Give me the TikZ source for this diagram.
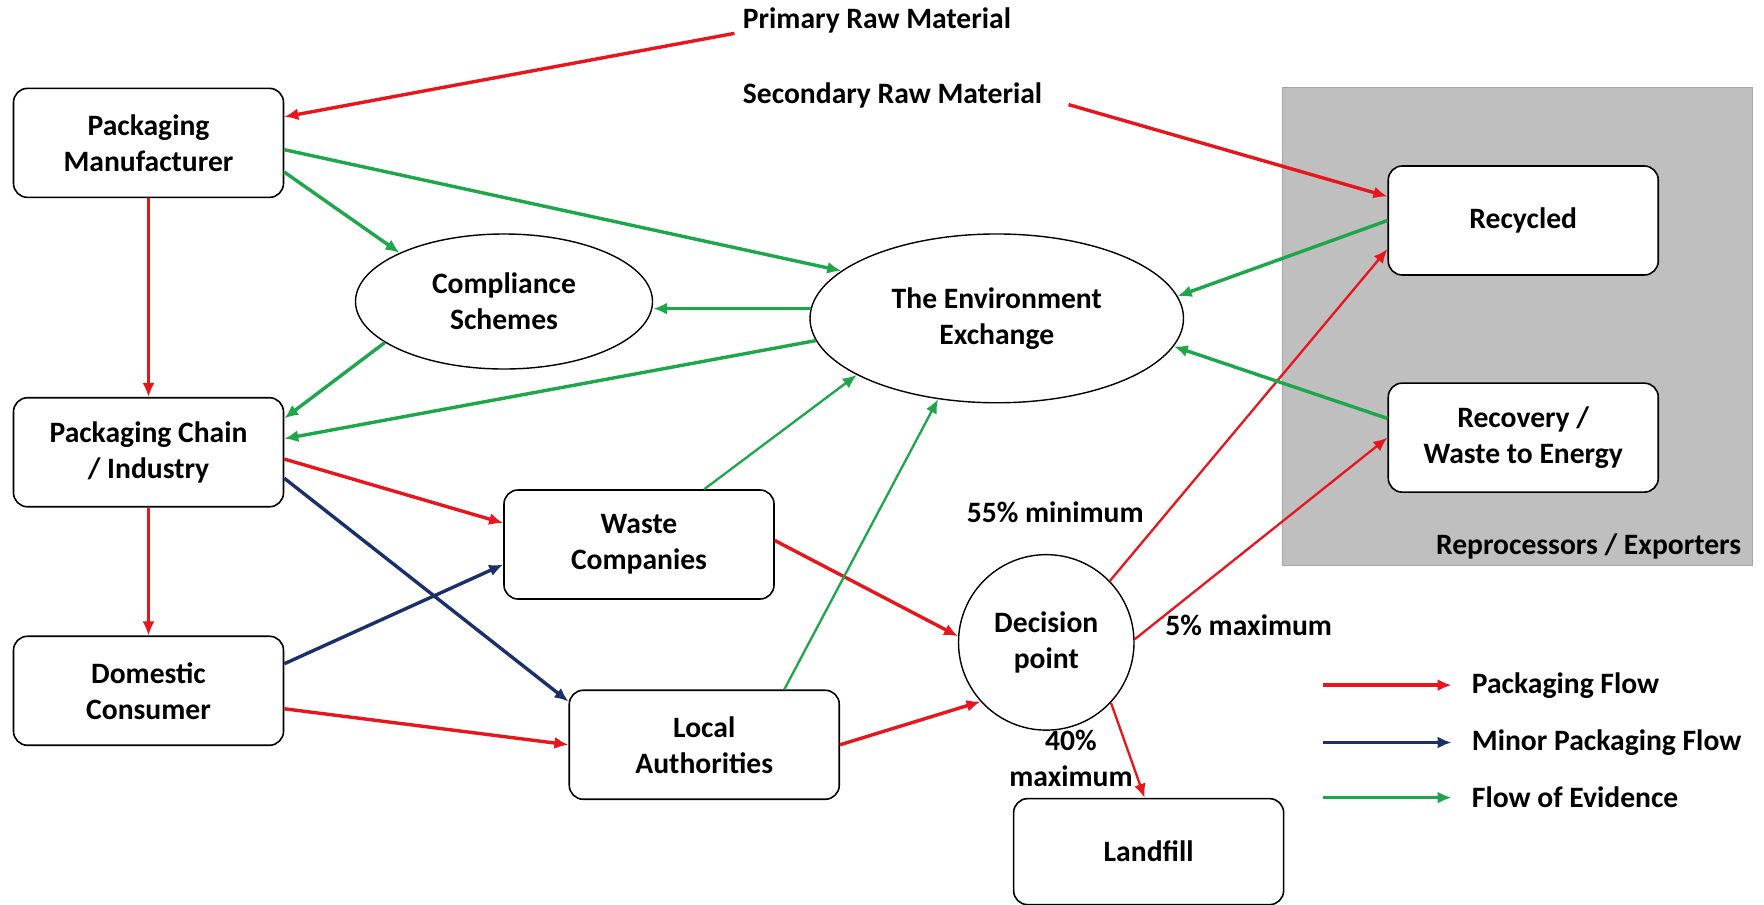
\documentclass[tikz,border=0pt]{standalone}
\usepackage{fontspec}
\setmainfont{Carlito}
\usetikzlibrary{arrows.meta,shapes.geometric}
\tikzset{>={Latex[width=6pt,length=7pt]}}
\definecolor{flowred}{HTML}{E8161C}
\definecolor{flowblue}{HTML}{1B2F6B}
\definecolor{flowgreen}{HTML}{1DA64A}
\definecolor{reprogrey}{HTML}{BFBFBF}
\tikzset{
  box/.style={draw, rounded corners=7pt, line width=0.8pt, fill=white, align=center,
    minimum width=135pt, minimum height=54.5pt, inner sep=2pt},
  oval/.style={draw, ellipse, line width=0.7pt, fill=white, align=center, inner sep=0pt},
  txt/.style={inner sep=0pt, align=center},
  redflow/.style={->, flowred, line width=1.7pt},
  blueflow/.style={->, flowblue, line width=1.7pt},
  greenflow/.style={->, flowgreen, line width=1.7pt},
  thinflow/.style={line width=1.15pt}
}

\begin{document}
\begin{tikzpicture}[x=0.5625pt, y=-0.5625pt, font=\fontsize{14.8}{18}\selectfont\bfseries]

  \useasboundingbox (0,0) rectangle (1568,804);

  % reprocessors area
  \draw[fill=reprogrey, draw=gray!70] (1140,78) rectangle (1558,503);
  \node[txt, anchor=east] (repro) at (1548,486) {Reprocessors / Exporters};

  \node[txt, anchor=west] (prim) at (660,18) {Primary Raw Material};
  \node[txt, anchor=west] (sec) at (660,85) {Secondary Raw Material};

  \node[box] (pm) at (132,127) {Packaging\\Manufacturer};
  \node[box] (pci) at (132,402) {Packaging Chain\\/ Industry};
  \node[box] (dc) at (132,614) {Domestic\\Consumer};
  \node[box] (wc) at (568,484) {Waste\\Companies};
  \node[box] (la) at (626,662) {Local\\Authorities};
  \node[box, minimum height=53pt] (land) at (1021,757) {Landfill};
  \node[box] (recy) at (1354,196) {Recycled};
  \node[box] (recov) at (1354,389) {Recovery /\\Waste to Energy};

  \node[oval, minimum width=148.5pt, minimum height=67.5pt] (comp) at (448,268) {Compliance\\Schemes};
  \node[oval, minimum width=186.75pt, minimum height=84.4pt] (env) at (886,283) {The Environment\\Exchange};
  \node[oval, minimum width=87.75pt, minimum height=87.75pt] (dec) at (930,571) {Decision\\point};

  \node[txt] (min55) at (938,455) {55\% minimum};
  \node[txt] (max5) at (1110,556) {5\% maximum};
  \node[txt] (max40) at (952,674) {40\%\\maximum};

  % packaging flow
  \draw[redflow] ([xshift=-4pt]prim.south west) -- ([yshift=13pt]pm.east);
  \draw[redflow] ([xshift=13pt,yshift=-4.5pt]sec.east) -- ([yshift=12pt]recy.west);
  \draw[redflow, thinflow] (pm.south) -- (pci.north);
  \draw[redflow, thinflow] (pci.south) -- (dc.north);
  \draw[redflow] ([yshift=-3.4pt]pci.east) -- ([yshift=10.7pt]wc.west);
  \draw[redflow] ([yshift=-9pt]dc.east) -- (la.west);
  \draw[redflow] ([yshift=2pt]wc.east) -- (dec.176);
  \draw[redflow] (la.east) -- (dec.222);
  \draw[redflow, thinflow] (dec.44) -- ([yshift=-14.3pt]recy.west);
  \draw[redflow, thinflow] (dec.2) -- (recov.west);
  \draw[redflow, thinflow] (dec.-43) -- ([xshift=-2pt]land.north);

  % minor packaging flow
  \draw[blueflow] ([yshift=-13pt]pci.east) -- ([yshift=-6pt]la.north west);
  \draw[blueflow] ([yshift=13.5pt]dc.east) -- ([yshift=-10pt]wc.west);

  % flow of evidence
  \draw[greenflow] ([yshift=-3.4pt]pm.east) -- (env.163);
  \draw[greenflow] ([yshift=-14.6pt]pm.east) -- (comp.155);
  \draw[greenflow] (env.177) -- (env.177 -| comp.east);
  \draw[greenflow] (comp.199) -- ([yshift=16.9pt]pci.east);
  \draw[greenflow] (env.187) -- ([yshift=6.75pt]pci.east);
  \draw[greenflow, thinflow] ([xshift=32.6pt]wc.north) -- (env.202);
  \draw[greenflow, thinflow] ([xshift=40pt]la.north) -- (env.234);
  \draw[greenflow] (recy.west) -- (env.7);
  \draw[greenflow] ([yshift=9.6pt]recov.west) -- (env.-9);

  % legend
  \node[txt, anchor=west] (lgred) at (1308,609) {Packaging Flow};
  \node[txt, anchor=west] (lgblue) at (1308,660) {Minor Packaging Flow};
  \node[txt, anchor=west] (lggreen) at (1308,709) {Flow of Evidence};
  \coordinate (lgreds) at (1176,609);
  \coordinate (lgblues) at (1176,660);
  \coordinate (lggreens) at (1176,709);
  \draw[redflow] (lgreds) -- ([xshift=-10pt]lgred.west);
  \draw[blueflow] (lgblues) -- ([xshift=-10pt]lgblue.west);
  \draw[greenflow] (lggreens) -- ([xshift=-10pt]lggreen.west);

\end{tikzpicture}
\end{document}
